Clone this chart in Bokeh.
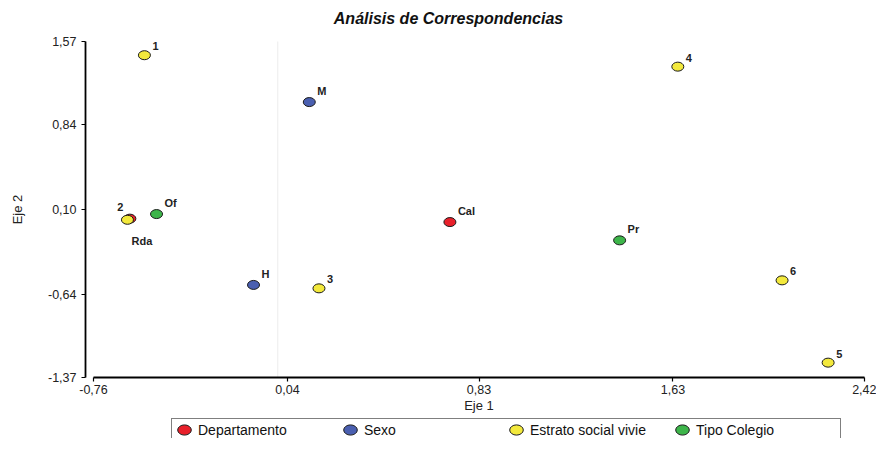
from bokeh.plotting import figure
from bokeh.models import (ColumnDataSource, FixedTicker, CustomJSTickFormatter,
                          Legend, LegendItem, Label)
from bokeh.embed import file_html
from bokeh.resources import INLINE

# ---- data ----
dep_labels = ["Rda", "Cal"]
dep_x = [-0.61, 0.71]
dep_y = [0.02, -0.01]

sexo_labels = ["M", "H"]
sexo_x = [0.13, -0.10]
sexo_y = [1.04, -0.56]

estrato_labels = ["1", "2", "3", "4", "5", "6"]
estrato_x = [-0.55, -0.62, 0.17, 1.65, 2.27, 2.08]
estrato_y = [1.45, 0.01, -0.59, 1.35, -1.24, -0.52]

tipo_labels = ["Of", "Pr"]
tipo_x = [-0.50, 1.41]
tipo_y = [0.06, -0.17]

x_ticks = [-0.76, 0.04, 0.83, 1.63, 2.42]
y_ticks = [-1.37, -0.64, 0.10, 0.84, 1.57]

groups = [
    ("Departamento", dep_labels, dep_x, dep_y, "#e8202a"),
    ("Sexo", sexo_labels, sexo_x, sexo_y, "#4a5fb0"),
    ("Estrato social vivie", estrato_labels, estrato_x, estrato_y, "#f3e93c"),
    ("Tipo Colegio", tipo_labels, tipo_x, tipo_y, "#3db54a"),
]

# label placement (style only)
default_place = (8, -5, "left", "bottom")
special_place = {
    "2": (-4, -9, "right", "bottom"),
    "Rda": (12, 16, "center", "top"),
}

FONT = "Liberation Sans"

# ---- layout (pixels) ----
W, H = 876, 438
YAXIS_PX = 85                 # y axis line position
X0_PX, X1_PX = 93, 864        # first / last x tick
Y1_PX, Y0_PX = 41, 377        # top / bottom y tick (x axis line)
xscale = (X1_PX - X0_PX) / (x_ticks[-1] - x_ticks[0])
yscale = (Y0_PX - Y1_PX) / (y_ticks[-1] - y_ticks[0])

p = figure(width=W, height=H, output_backend="svg", toolbar_location=None,
           title=None,
           x_range=(x_ticks[0] - X0_PX / xscale, x_ticks[-1] + (W - X1_PX) / xscale),
           y_range=(y_ticks[0] - (H - Y0_PX) / yscale, y_ticks[-1] + Y1_PX / yscale),
           min_border_left=0, min_border_right=0,
           min_border_top=0, min_border_bottom=0)

p.background_fill_color = "white"
p.border_fill_color = "white"
p.outline_line_color = None
p.grid.visible = False

p.add_layout(Label(x=448, y=H - 18, x_units="screen", y_units="screen",
                   text="Análisis de Correspondencias", text_align="center",
                   text_baseline="middle", text_font=FONT, text_font_size="16px",
                   text_font_style="bold italic", text_color="#111111"))

# faint zero line
p.segment(x0=[0], y0=[y_ticks[0]], x1=[0], y1=[y_ticks[-1]],
          line_color="#ececec", line_width=1)

fmt = CustomJSTickFormatter(code="return tick.toFixed(2).replace('.', ',');")

for ax, ticks in ((p.xaxis[0], x_ticks), (p.yaxis[0], y_ticks)):
    ax.ticker = FixedTicker(ticks=ticks)
    ax.formatter = fmt
    ax.bounds = (ticks[0], ticks[-1])
    ax.axis_line_color = "black"
    ax.axis_line_width = 1.8
    ax.major_tick_line_color = "black"
    ax.major_tick_line_width = 1.2
    ax.major_tick_out = 4
    ax.major_tick_in = 0
    ax.minor_tick_line_color = None
    ax.major_label_text_font = FONT
    ax.major_label_text_font_size = "12.5px"
    ax.major_label_text_color = "#222222"
    ax.axis_label_text_font = FONT
    ax.axis_label_text_font_size = "13px"
    ax.axis_label_text_font_style = "normal"
    ax.axis_label_text_color = "#222222"

p.xaxis.fixed_location = y_ticks[0]
p.xaxis.axis_label = "Eje 1"
p.xaxis.axis_label_standoff = 1
p.xaxis.major_label_standoff = 3
p.yaxis.fixed_location = x_ticks[0] - (X0_PX - YAXIS_PX) / xscale
p.yaxis.axis_label = "Eje 2"
p.yaxis.axis_label_standoff = 20
p.yaxis.major_label_standoff = 5

items = []
for name, labels, xs, ys, color in groups:
    places = [special_place.get(l, default_place) for l in labels]
    src = ColumnDataSource(dict(
        x=xs, y=ys, label=labels,
        xo=[pl[0] for pl in places], yo=[pl[1] for pl in places],
        al=[pl[2] for pl in places], bl=[pl[3] for pl in places],
    ))
    r = p.ellipse("x", "y", width=12, height=9, width_units="screen",
                  height_units="screen", source=src, fill_color=color,
                  line_color="#1a1a1a", line_width=1)
    p.text("x", "y", text="label", source=src, x_offset="xo", y_offset="yo",
           text_align="al", text_baseline="bl", text_font_size="11px",
           text_font_style="bold", text_color="#222222",
           text_font={"value": FONT})
    items.append(LegendItem(label=name, renderers=[r]))

legend = Legend(items=items, orientation="horizontal", location=(171, -3),
                glyph_width=20, glyph_height=17, label_standoff=4,
                label_width=142, spacing=0, padding=2, margin=0,
                border_line_color="black", border_line_width=1,
                background_fill_color="white", background_fill_alpha=1,
                label_text_font=FONT, label_text_font_size="14px",
                label_text_color="#111111")
p.add_layout(legend)

open("out.html", "w").write(file_html(p, INLINE))
